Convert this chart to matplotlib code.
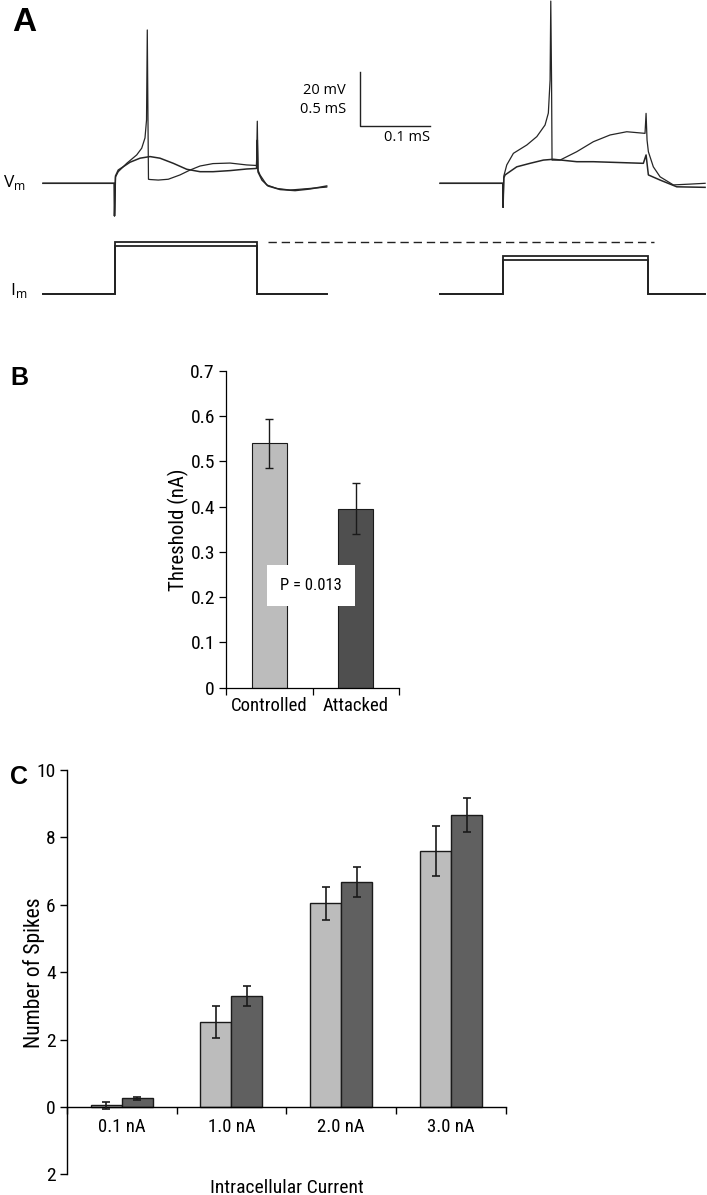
import matplotlib
matplotlib.use("Agg")
import matplotlib.pyplot as plt
from matplotlib import font_manager

# ---------------- data ----------------
# Panel A: membrane voltage sweeps (ms from step onset, mV)
L_SPIKE_T = [-102.5, -0.3, 0.0, 1.4, 5.4, 17.5, 31.8, 39.0, 43.7, 45.9, 47.0, 48.0, 48.7, 50.9,
             62.8, 77.1, 93.9, 108.2, 122.6, 141.2, 165.6, 189.5, 203.6, 204.7, 205.7, 208.6,
             218.2, 232.5, 251.6, 280.3, 304.2]
L_SPIKE_V = [-65.0, -65.0, -77.1, -62.7, -60.7, -57.6, -54.5, -52.0, -48.2, -41.6, -8.2, -41.6, -63.5, -63.6,
             -63.8, -63.5, -61.9, -60.1, -58.6, -57.7, -57.5, -58.2, -58.4, -42.0, -60.1, -61.9,
             -65.6, -66.9, -67.5, -66.9, -66.4]
L_SUB_T = [-102.5, -0.3, 0.0, 1.4, 5.4, 22.2, 36.6, 50.9, 65.2, 84.3, 103.5, 122.6, 141.2, 165.6,
           189.5, 203.6, 204.7, 205.7, 211.4, 220.1, 237.3, 258.8, 280.3, 304.2]
L_SUB_V = [-65.0, -65.0, -77.1, -62.3, -60.1, -57.2, -55.7, -55.1, -55.7, -57.6, -59.8, -60.7, -60.7, -60.3,
           -59.7, -59.5, -49.0, -60.8, -63.8, -66.0, -67.3, -67.7, -67.1, -66.0]
R_SPIKE_T = [-90.3, -0.3, 0.0, 1.1, 5.3, 14.8, 34.1, 48.4, 60.2, 64.9, 67.4, 68.4, 69.5, 70.2, 81.7,
             105.6, 129.4, 153.4, 177.3, 203.5, 205.0, 206.4, 208.3, 215.4, 225.1, 244.1, 268.0, 289.6]
R_SPIKE_V = [-65.0, -65.0, -73.9, -62.3, -58.2, -53.9, -50.8, -47.7, -43.4, -39.0, -26.8, 2.5, -26.8, -56.4, -56.4,
             -53.3, -49.6, -47.1, -45.9, -46.5, -39.1, -49.0, -53.3, -58.9, -62.6, -65.6, -65.3, -65.0]
R_SUB_T = [-90.3, -0.3, 0.0, 1.1, 2.9, 19.6, 38.7, 57.8, 72.1, 105.6, 129.4, 177.3, 201.1, 205.0,
           208.3, 225.1, 249.0, 289.6]
R_SUB_V = [-65.0, -65.0, -73.9, -63.0, -61.9, -58.9, -57.6, -56.4, -56.1, -57.0, -57.0, -57.4, -57.6, -54.5,
           -61.9, -63.8, -66.3, -66.5]

# Panel A: injected current steps (nA)
L_STEP_END = [-102.5, 203.6, 304.2]   # start, step off, end (ms)
R_STEP_END = [-90.3, 207.4, 289.6]
L_STEP_AMPS = [1.0, 0.938]
R_STEP_AMPS = [0.740, 0.663]

# Panel B
GROUPS = ["Controlled", "Attacked"]
THRESHOLD = [0.540, 0.396]
THRESHOLD_ERR = [0.054, 0.056]

# Panel C
CURRENTS = ["0.1 nA", "1.0 nA", "2.0 nA", "3.0 nA"]
SPIKES_CTRL = [0.05, 2.53, 6.04, 7.60]
SPIKES_CTRL_ERR = [0.10, 0.48, 0.48, 0.75]
SPIKES_ATT = [0.25, 3.30, 6.68, 8.67]
SPIKES_ATT_ERR = [0.03, 0.30, 0.44, 0.50]

LIGHT = "#bcbcbc"
DARK_B = "#4f4f4f"
DARK_C = "#606060"
TRACE = "#262626"


def pick_narrow():
    """Find a condensed sans font (the reference uses an Arial Narrow look)."""
    stretches = {}
    for f in font_manager.fontManager.ttflist:
        stretches.setdefault(f.name, set()).add(str(f.stretch))
    for cand in ["Liberation Sans Narrow", "Arial Narrow", "Roboto Condensed",
                 "Open Sans Condensed", "Noto Sans Condensed", "DejaVu Sans Condensed"]:
        if cand in stretches:
            return cand, "normal", True
    for fam in ["DejaVu Sans", "Noto Sans", "Open Sans", "Roboto", "Liberation Sans"]:
        for st in stretches.get(fam, set()):
            if st in ("condensed", "semi-condensed", "extra-condensed"):
                return fam, st, True
    return "Liberation Sans", "normal", False


NARROW, STRETCH, FOUND = pick_narrow()
plt.rcParams["font.family"] = [NARROW, "DejaVu Sans"]
plt.rcParams["font.stretch"] = STRETCH
OPEN = ["Open Sans", "DejaVu Sans"]

W, H = 707, 1195
fig = plt.figure(figsize=(W / 100, H / 100), dpi=100)

# ---------------- panel A ----------------
PX_PER_MS = 0.6976
ONSET_L = 114.5          # px of the left step onset
SWEEP2 = 557.0           # ms offset of the right sweep
ax_v = fig.add_axes([0, 1 - 230 / H, 1, 230 / H])
ax_v.set_xlim(-ONSET_L / PX_PER_MS, (W - ONSET_L) / PX_PER_MS)
ax_v.set_ylim(-82.3, 2.9)
ax_v.axis("off")

ax_v.plot(L_SUB_T, L_SUB_V, color=TRACE, lw=1.1)
ax_v.plot(L_SPIKE_T, L_SPIKE_V, color=TRACE, lw=0.9)
ax_v.plot([t + SWEEP2 for t in R_SUB_T], R_SUB_V, color=TRACE, lw=1.1)
ax_v.plot([t + SWEEP2 for t in R_SPIKE_T], R_SPIKE_V, color=TRACE, lw=0.9)

# scale bar
sx, sy = 352.0, -43.8
ax_v.plot([sx, sx, sx + 100], [sy + 20, sy, sy], color="#222222", lw=1.0)
ax_v.text(sx - 20, -30.8, "20 mV", ha="right", va="center", fontsize=10.5, family=OPEN, stretch="normal")
ax_v.text(sx - 20, -37.5, "0.5 mS", ha="right", va="center", fontsize=10.5, family=OPEN, stretch="normal")
ax_v.text(sx + 100, -48.0, "0.1 mS", ha="right", va="center", fontsize=10.5, family=OPEN, stretch="normal")

ax_i = fig.add_axes([0, 1 - 310 / H, 1, 80 / H])
ax_i.set_xlim(-ONSET_L / PX_PER_MS, (W - ONSET_L) / PX_PER_MS)
ax_i.set_ylim(-0.298, 1.240)
ax_i.axis("off")
for ends, amps, off in [(L_STEP_END, L_STEP_AMPS, 0.0), (R_STEP_END, R_STEP_AMPS, SWEEP2)]:
    t0, t1, t2 = ends
    for a in amps:
        ax_i.plot([t0 + off, off, off, t1 + off, t1 + off, t2 + off], [0, 0, a, a, 0, 0],
                  color="#222222", lw=1.3, solid_joinstyle="miter")
ax_i.plot([219.6, 773.8], [1.015, 1.015], color="#222222", lw=1.0, ls=(0, (6, 3.5)))

fig.text(3 / W, 1 - 183 / H, "V$_\\mathregular{m}$", fontsize=12.5, va="center", family=OPEN, stretch="normal")
fig.text(10 / W, 1 - 290 / H, "I$_\\mathregular{m}$", fontsize=12.5, va="center", family=OPEN, stretch="normal")

# ---------------- panel B ----------------
axb = fig.add_axes([226 / W, 1 - 687.7 / H, 173 / W, 316.7 / H])
axb.bar(range(len(GROUPS)), THRESHOLD, width=0.405, color=[LIGHT, DARK_B],
        edgecolor="#1a1a1a", linewidth=0.8, zorder=2)
axb.errorbar(range(len(GROUPS)), THRESHOLD, yerr=THRESHOLD_ERR, fmt="none",
             ecolor="#1a1a1a", elinewidth=1.0, capsize=3, capthick=1.0, zorder=3)
axb.set_xlim(-0.5, 1.5)
axb.set_ylim(0, 0.7)
yt = [0, 0.1, 0.2, 0.3, 0.4, 0.5, 0.6, 0.7]
axb.set_yticks(yt, ["0"] + [f"{v:.1f}" for v in yt[1:]])
axb.set_xticks(range(len(GROUPS)), GROUPS)
axb.set_xticks([-0.5, 0.5, 1.5], minor=True)
for s in ["top", "right"]:
    axb.spines[s].set_visible(False)
for s in ["left", "bottom"]:
    axb.spines[s].set_linewidth(0.9)
axb.tick_params(axis="y", direction="out", length=5, width=0.9, labelsize=14 if FOUND else 12, pad=3)
axb.tick_params(axis="x", which="major", length=0, labelsize=13.5 if FOUND else 11.5, pad=7)
axb.tick_params(axis="x", which="minor", direction="out", length=5, width=0.9)
axb.set_ylabel("Threshold (nA)", fontsize=15 if FOUND else 13)
axb.yaxis.set_label_coords(-0.215, 0.498)
P_FS = 12 if FOUND else 10
axb.text(0.483, 0.225, "P = 0.013", ha="center", va="center", fontsize=P_FS, zorder=5,
         bbox=dict(boxstyle="square,pad=%.2f" % (13 / (P_FS * 100 / 72)), facecolor="white", edgecolor="none"))

# ---------------- panel C ----------------
axc = fig.add_axes([66.7 / W, 1 - 1174.3 / H, 439.3 / W, 404.3 / H])
x = list(range(len(CURRENTS)))
bw = 0.282
axc.bar([i - bw / 2 for i in x], SPIKES_CTRL, width=bw, color=LIGHT, edgecolor="#1a1a1a", linewidth=1.0, zorder=2)
axc.bar([i + bw / 2 for i in x], SPIKES_ATT, width=bw, color=DARK_C, edgecolor="#1a1a1a", linewidth=1.0, zorder=2)
axc.errorbar([i - bw / 2 for i in x], SPIKES_CTRL, yerr=SPIKES_CTRL_ERR, fmt="none",
             ecolor="#1a1a1a", elinewidth=1.2, capsize=3, capthick=1.2, zorder=3)
axc.errorbar([i + bw / 2 for i in x], SPIKES_ATT, yerr=SPIKES_ATT_ERR, fmt="none",
             ecolor="#1a1a1a", elinewidth=1.2, capsize=3, capthick=1.2, zorder=3)
axc.set_xlim(-0.5, 3.5)
axc.set_ylim(-2, 10)
axc.set_yticks([-2, 0, 2, 4, 6, 8, 10], ["2", "0", "2", "4", "6", "8", "10"])
axc.set_xticks(x, CURRENTS)
axc.set_xticks([-0.5, 0.5, 1.5, 2.5, 3.5], minor=True)
axc.spines["bottom"].set_position(("data", 0))
for s in ["top", "right"]:
    axc.spines[s].set_visible(False)
for s in ["left", "bottom"]:
    axc.spines[s].set_linewidth(1.0)
C_FS = 13.5 if FOUND else 12
axc.tick_params(axis="y", direction="out", length=5, width=1.0, labelsize=C_FS + 0.5, pad=3)
axc.tick_params(axis="x", which="major", length=0, labelsize=C_FS, pad=8)
axc.tick_params(axis="x", which="minor", direction="out", length=5, width=1.0)
axc.set_ylabel("Number of Spikes", fontsize=15.5 if FOUND else 13.5)
axc.yaxis.set_label_coords(-0.05, 0.498)
axc.set_xlabel("Intracellular Current", fontsize=14 if FOUND else 12)
axc.xaxis.set_label_coords(0.5015, -0.012)

# panel letters
LET = ["Liberation Sans", "DejaVu Sans"]
fig.text(12 / W, 1 - 31 / H, "A", fontsize=24, fontweight="bold", family=LET, stretch="normal")
fig.text(10 / W, 1 - 385 / H, "B", fontsize=18, fontweight="bold", family=LET, stretch="normal")
fig.text(10 / W, 1 - 784 / H, "C", fontsize=18, fontweight="bold", family=LET, stretch="normal")

fig.savefig("out.png", dpi=100)
